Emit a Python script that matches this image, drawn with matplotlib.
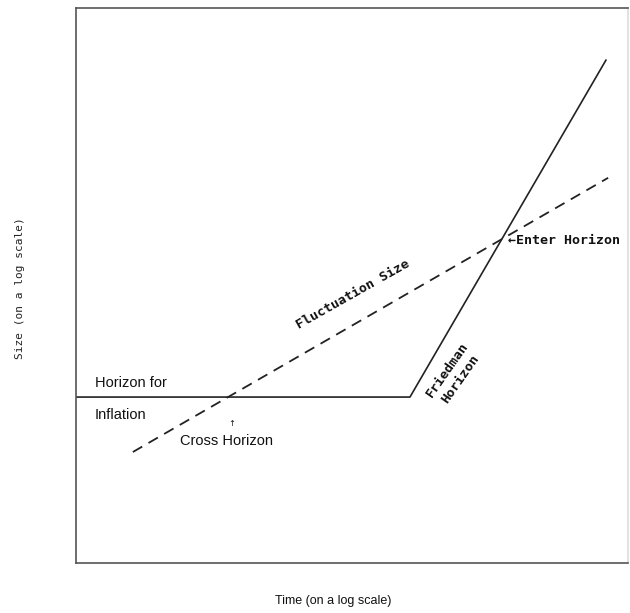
import matplotlib
matplotlib.use("Agg")
import matplotlib.pyplot as plt

# Chart values (log time, log size), arbitrary units 0..10
horizon_x = [0.0, 6.05, 9.60]
horizon_y = [2.99, 2.99, 9.06]
fluct_x = [1.03, 9.64]
fluct_y = [2.00, 6.94]

fig = plt.figure(figsize=(6.30, 6.13), dpi=100)
# axes box in pixels: x 76..628, y 8..563
ax = fig.add_axes([76 / 630, 1 - 563 / 613, 552 / 630, 555 / 613])
ax.set_xlim(0, 10)
ax.set_ylim(0, 10)
ax.set_xticks([])
ax.set_yticks([])
for s in ax.spines.values():
    s.set_color('#555555')
    s.set_linewidth(1.2)
ax.spines['right'].set_color('#dddddd')

ax.plot(horizon_x, horizon_y, color='#222222', lw=1.2)
ax.plot(fluct_x, fluct_y, color='#222222', lw=1.3, linestyle=(0, (6, 4)))

mono = 'DejaVu Sans Mono'
sans = 'Liberation Sans'

def px(x, y):
    return ((x - 76) / 55.2, (563 - y) / 55.5)

ax.text(*px(95, 383), 'Horizon for', family=sans, fontsize=10.5,
        ha='left', va='center', color='#111111')
ax.text(*px(95, 415), 'Inflation', family=sans, fontsize=10.5,
        ha='left', va='center', color='#111111')
ax.text(*px(226, 441), 'Cross Horizon', family=sans, fontsize=10.5,
        ha='center', va='center', color='#111111')
ax.text(*px(232, 424), '\u2191', family='DejaVu Sans', fontsize=6,
        ha='center', va='center', color='#111111')
ax.text(*px(353, 294), 'Fluctuation Size', family=mono, fontsize=9.5,
        fontweight='bold', rotation=29.5, rotation_mode='anchor',
        ha='center', va='center', color='#111111')
ax.text(*px(454, 374), 'Friedman\nHorizon', family=mono, fontsize=9.5,
        fontweight='bold', rotation=55, rotation_mode='anchor',
        ha='center', va='center', linespacing=1.3, color='#111111')
ax.text(*px(508, 241), '\u2190Enter Horizon', family=mono, fontsize=9.5,
        fontweight='bold', ha='left', va='center', color='#111111')

fig.text(20 / 630, 1 - 288 / 613, 'Size (on a log scale)', family=mono,
         fontsize=8, rotation=90, ha='center', va='center', color='#222222')
fig.text(333 / 630, 1 - 601 / 613, 'Time (on a log scale)', family=sans,
         fontsize=9, ha='center', va='center', color='#111111')

fig.savefig('out.png', dpi=100)
